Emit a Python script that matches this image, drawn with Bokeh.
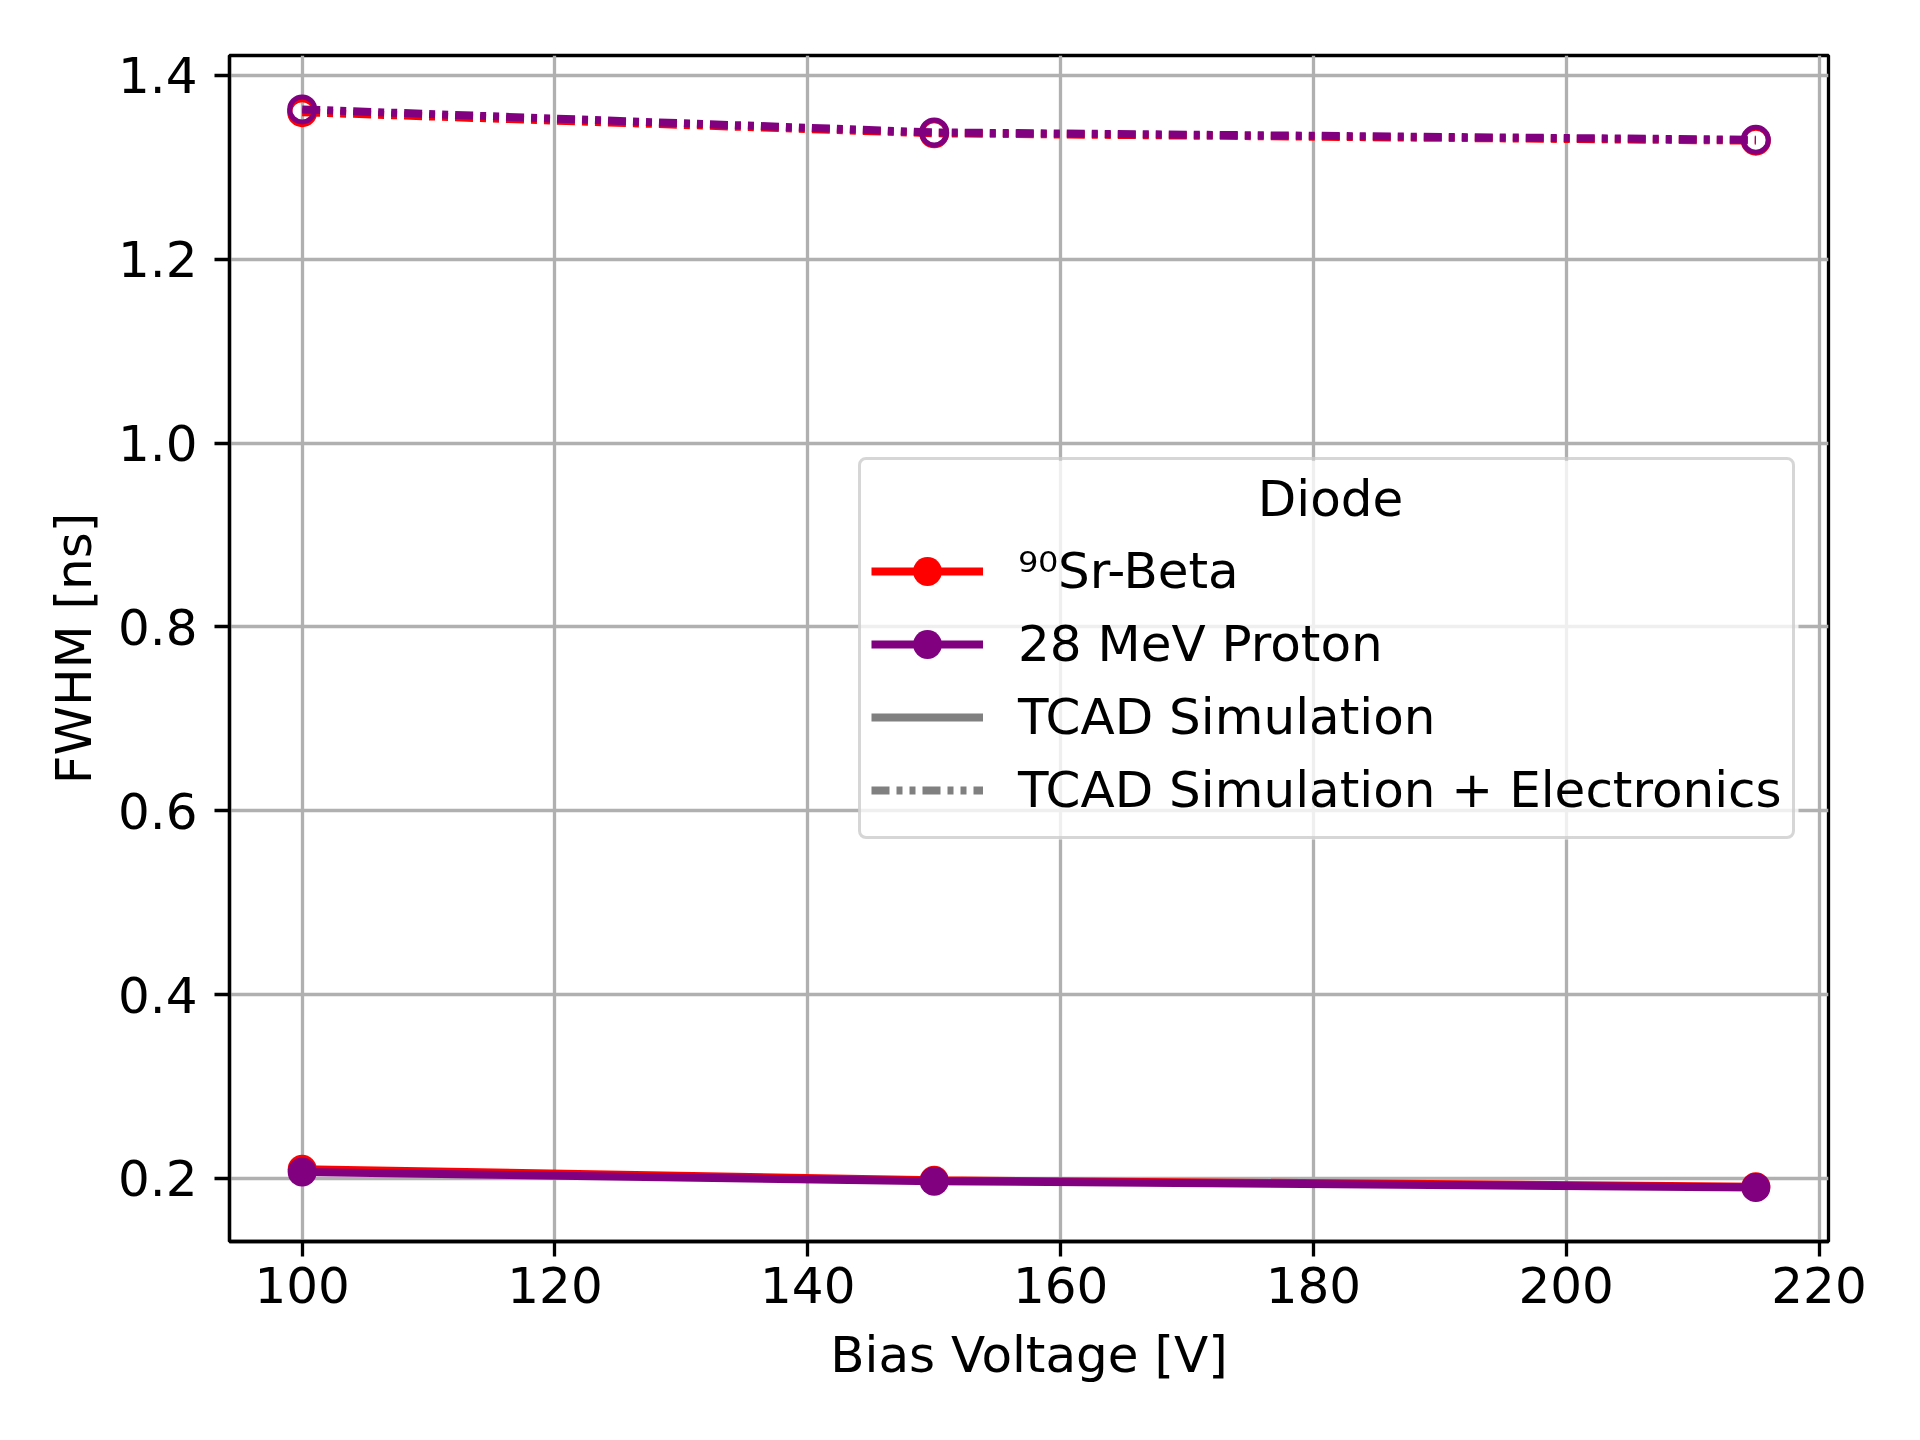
from bokeh.plotting import figure
from bokeh.models import (Range1d, FixedTicker, NumeralTickFormatter, Legend, LegendItem,
                          ColumnDataSource, Label, BoxAnnotation)
from bokeh.embed import file_html
from bokeh.resources import INLINE

# ---- data ----
voltage = [100, 150, 215]
sr_sim = [0.210, 0.198, 0.191]
proton_sim = [0.207, 0.197, 0.190]
sr_elec = [1.360, 1.337, 1.329]
proton_elec = [1.363, 1.338, 1.330]

x_ticks = [100, 120, 140, 160, 180, 200, 220]
y_ticks = [0.2, 0.4, 0.6, 0.8, 1.0, 1.2, 1.4]

series_labels = ["\u2079\u2070Sr-Beta", "28 MeV Proton"]
style_labels = ["TCAD Simulation", "TCAD Simulation + Electronics"]
legend_title = "Diode"
x_label = "Bias Voltage [V]"
y_label = "FWHM [ns]"

RED = "#ff0000"
PURPLE = "#800080"
GRAY = "#808080"
FONT = "DejaVu Sans"
DASH = "18 7 6 7 6 7"

all_y = sr_sim + proton_sim + sr_elec + proton_elec
ymin, ymax = min(all_y), max(all_y)
ypad = 0.05 * (ymax - ymin)
xmin, xmax = min(voltage), max(voltage)
xpad = 0.05 * (xmax - xmin)

p = figure(width=1900, height=1420, output_backend="svg", toolbar_location=None,
           x_range=Range1d(xmin - xpad, xmax + xpad),
           y_range=Range1d(ymin - ypad, ymax + ypad),
           min_border_left=229, min_border_right=72, min_border_top=55, min_border_bottom=179)
p.background_fill_color = "white"
p.border_fill_color = "white"
p.outline_line_color = "black"
p.outline_line_width = 3.3

for ax in (p.xaxis[0], p.yaxis[0]):
    ax.axis_line_color = "black"
    ax.axis_line_width = 3.3
    ax.major_tick_line_color = "black"
    ax.major_tick_line_width = 3.3
    ax.major_tick_in = 0
    ax.major_tick_out = 15
    ax.minor_tick_line_color = None
    ax.major_label_text_font = FONT
    ax.major_label_text_font_size = "50px"
    ax.major_label_text_color = "black"
    ax.axis_label_text_font = FONT
    ax.axis_label_text_font_size = "50px"
    ax.axis_label_text_font_style = "normal"
    ax.axis_label_text_color = "black"

p.xaxis.ticker = FixedTicker(ticks=x_ticks, minor_ticks=[])
p.yaxis.ticker = FixedTicker(ticks=y_ticks, minor_ticks=[])
p.yaxis.formatter = NumeralTickFormatter(format="0.0")
p.xaxis.formatter = NumeralTickFormatter(format="0")
p.xaxis.major_label_standoff = 10
p.yaxis.major_label_standoff = 17
p.xaxis.axis_label = x_label
p.yaxis.axis_label = y_label
p.xaxis.axis_label_standoff = 20
p.yaxis.axis_label_standoff = 12

for g in (p.xgrid[0], p.ygrid[0]):
    g.grid_line_color = "#b0b0b0"
    g.grid_line_width = 3.3

# translucent legend frame background (screen units, frame-relative)
LEG_X, LEG_Y, LEG_W, LEG_H = 629, 402, 940, 379
bg = BoxAnnotation(left=LEG_X, right=LEG_X + LEG_W, bottom=LEG_Y, top=LEG_Y + LEG_H,
                   left_units="screen", right_units="screen",
                   bottom_units="screen", top_units="screen",
                   fill_color="white", fill_alpha=0.8, line_color=None, level="underlay")
if "border_radius" in BoxAnnotation.properties():
    bg.border_radius = 8
p.add_layout(bg)

sim_r = {}
for name, color, sim, elec in [("sr", RED, sr_sim, sr_elec), ("pr", PURPLE, proton_sim, proton_elec)]:
    l1 = p.line(voltage, sim, line_color=color, line_width=8)
    s1 = p.scatter(voltage, sim, marker="circle", size=29, fill_color=color, line_color=None)
    p.line(voltage, elec, line_color=color, line_width=8, line_dash=DASH)
    p.scatter(voltage, elec, marker="circle", size=25, fill_color=None, line_color=color, line_width=5)
    sim_r[name] = [l1, s1]

# legend-only renderers (no visible data)
nan_src = ColumnDataSource(data=dict(x=[float("nan")], y=[float("nan")]))
g_solid = p.line("x", "y", source=nan_src, line_color=GRAY, line_width=8)
g_dash = p.line("x", "y", source=nan_src, line_color=GRAY, line_width=8, line_dash=DASH)

items = [
    LegendItem(label=series_labels[0], renderers=sim_r["sr"]),
    LegendItem(label=series_labels[1], renderers=sim_r["pr"]),
    LegendItem(label=style_labels[0], renderers=[g_solid]),
    LegendItem(label=style_labels[1], renderers=[g_dash]),
]
legend = Legend(items=items, location=(LEG_X, LEG_Y), title=" ")
legend.label_text_font = FONT
legend.label_text_font_size = "50px"
legend.label_text_color = "black"
legend.title_text_font = FONT
legend.title_text_font_size = "50px"
legend.title_text_font_style = "normal"
legend.title_standoff = 7
legend.glyph_width = 112
legend.glyph_height = 72
legend.label_standoff = 35
legend.spacing = 1
legend.padding = 10
legend.margin = 0
legend.border_line_color = "#cccccc"
legend.border_line_width = 3.3
legend.border_line_alpha = 0.8
legend.background_fill_color = "white"
legend.background_fill_alpha = 0.0
if "border_radius" in Legend.properties():
    legend.border_radius = 8
p.add_layout(legend)

title_lbl = Label(x=1101, y=743, x_units="screen", y_units="screen", text=legend_title,
                  text_font=FONT, text_font_size="50px", text_color="black",
                  text_align="center", text_baseline="middle")
p.add_layout(title_lbl)

open("out.html", "w").write(file_html(p, INLINE))
